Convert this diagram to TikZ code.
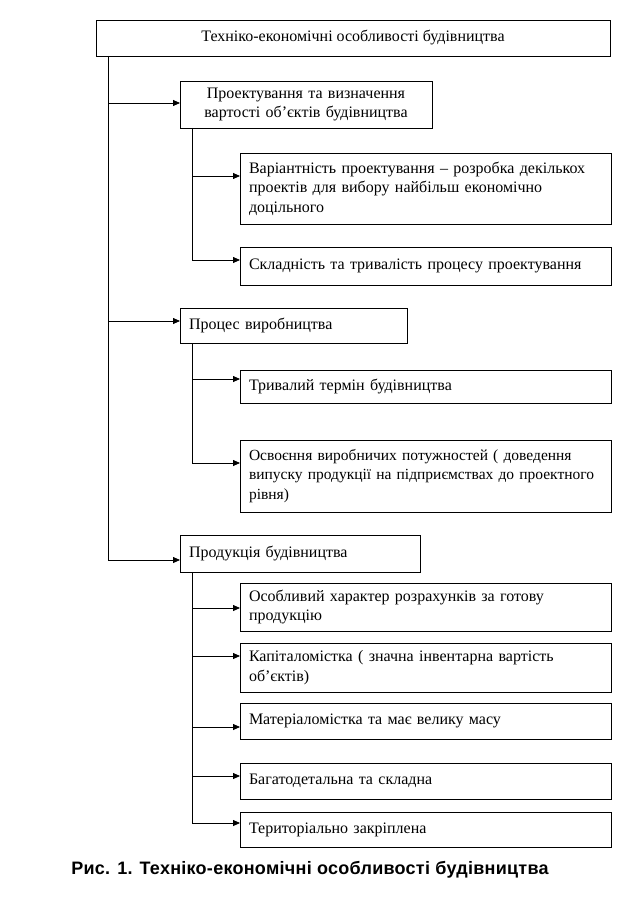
\documentclass[tikz,border=0pt]{standalone}
\usepackage{fontspec}
\setmainfont{Liberation Serif}
\setsansfont[LetterSpace=1.5]{Liberation Sans}
\usetikzlibrary{positioning, arrows.meta}

\begin{document}
\begin{tikzpicture}[
    x=1pt, y=1pt,
    % Box Styles
    baseBox/.style = {rectangle, draw, line width=0.8pt, outer sep=0pt, inner ysep=0pt, inner xsep=9pt, font=\fontsize{16}{19.5}\selectfont},
    topBox/.style = {baseBox, minimum width=514pt, minimum height=36pt, align=center},
    catBox/.style 2 args = {baseBox, text width=#1, minimum height=#2, align=left},
    itemBox/.style = {baseBox, text width=353pt, minimum height=#1, align=left},
    itemBox/.default = 36pt,
    % Arrow Style
    link/.style = {-{Triangle[length=7pt, width=6pt]}, line width=0.8pt}
]
    \useasboundingbox (0,0) rectangle (624,-901);

    % ==========================================
    % TOP BOX
    % ==========================================
    \node[topBox, anchor=north west] (Top) at (96,-20) {Техніко-економічні особливості будівництва};

    % ==========================================
    % GROUP 1: DESIGN
    % ==========================================
    \node[catBox={234pt}{47pt}, align=center, below=25pt of Top.south west, anchor=north west, xshift=84pt] (Proj) {Проектування та визначення\\вартості об’єктів будівництва};
    \node[itemBox=71pt, below=25pt of Proj.south west, anchor=north west, xshift=60pt] (Var) {Варіантність проектування – розробка декількох\\проектів для вибору найбільш економічно\\доцільного};
    \node[itemBox=38pt, below=23pt of Var.south west, anchor=north west] (Skl) {Складність та тривалість процесу проектування};

    % ==========================================
    % GROUP 2: PRODUCTION PROCESS
    % ==========================================
    \node[catBox={209pt}{35pt}, below=23pt of Skl.south west, anchor=north west, xshift=-60pt] (Proc) {Процес виробництва};
    \node[itemBox=33pt, below=27pt of Proc.south west, anchor=north west, xshift=60pt] (Term) {Тривалий термін будівництва};
    \node[itemBox=72pt, font=\fontsize{15.5}{19.5}\selectfont, below=37pt of Term.south west, anchor=north west] (Osv) {Освоєння виробничих потужностей ( доведення\\\mbox{випуску продукції на підприємствах до проектного}\\рівня)};

    % ==========================================
    % GROUP 3: CONSTRUCTION OUTPUT
    % ==========================================
    \node[catBox={222pt}{37pt}, below=23pt of Osv.south west, anchor=north west, xshift=-60pt] (Prod) {Продукція будівництва};
    \node[itemBox=48pt, below=11pt of Prod.south west, anchor=north west, xshift=60pt] (Rozr) {Особливий характер розрахунків за готову\\продукцію};
    \node[itemBox=49pt, below=12pt of Rozr.south west, anchor=north west] (Kap) {Капіталомістка ( значна інвентарна вартість\\об’єктів)};
    \node[itemBox, below=11pt of Kap.south west, anchor=north west] (Mat) {Матеріаломістка та має велику масу};
    \node[itemBox, below=24pt of Mat.south west, anchor=north west] (Bag) {Багатодетальна та складна};
    \node[itemBox=35pt, below=13pt of Bag.south west, anchor=north west] (Ter) {Територіально закріплена};

    % Entry points of the arrows
    \foreach \nm/\off in {Proj/22, Var/23, Skl/13, Proc/13, Term/9, Osv/23,
                          Prod/25, Rozr/25, Kap/13, Mat/24, Bag/13, Ter/11}
        \coordinate (\nm-in) at ([yshift=-\off pt]\nm.north west);

    % ==========================================
    % BRANCH LINES
    % ==========================================
    \coordinate (Trunk) at ([xshift=12pt]Top.south west);
    \draw[link] (Trunk) |- (Prod-in);
    \foreach \nm in {Proj, Proc}
        \draw[link] (Trunk |- \nm-in) -- (\nm-in);

    \coordinate (ProjBr) at ([xshift=12pt]Proj.south west);
    \draw[link] (ProjBr) |- (Skl-in);
    \draw[link] (ProjBr |- Var-in) -- (Var-in);

    \coordinate (ProcBr) at ([xshift=12pt]Proc.south west);
    \draw[link] (ProcBr) |- (Osv-in);
    \draw[link] (ProcBr |- Term-in) -- (Term-in);

    \coordinate (ProdBr) at ([xshift=12pt]Prod.south west);
    \draw[link] (ProdBr) |- (Ter-in);
    \foreach \nm in {Rozr, Kap, Mat, Bag}
        \draw[link] (ProdBr |- \nm-in) -- (\nm-in);

    % Caption
    \node[font=\sffamily\bfseries\fontsize{18}{21}\selectfont] (Caption) at (310,-870) {Рис. 1. Техніко-економічні особливості будівництва};
\end{tikzpicture}
\end{document}
